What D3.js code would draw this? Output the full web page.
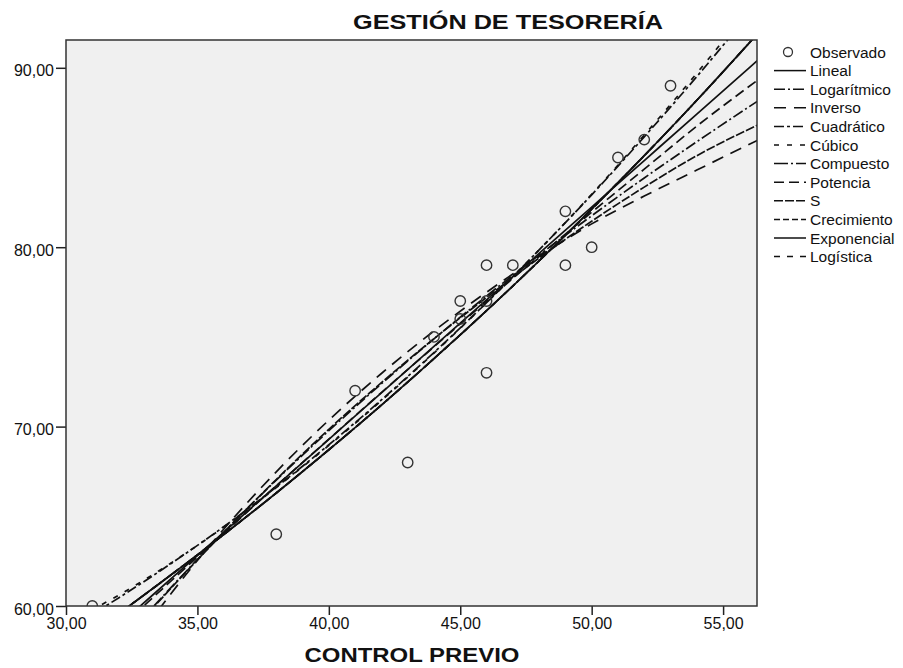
<!DOCTYPE html>
<html>
<head>
<meta charset="utf-8">
<script src="https://cdn.jsdelivr.net/npm/d3@7"></script>
<style>
    body { margin: 0; background: #fff; }
    text { font-family: "Liberation Sans", Arial, sans-serif; fill: #111; }
</style>
</head>
<body>
<div id="chart"></div>
<script>
'use strict';

// observed points (CONTROL PREVIO vs GESTIÓN DE TESORERÍA)
const obsX = [31, 38, 41, 43, 44, 45, 45, 46, 46, 46, 47, 49, 49, 50, 51, 52, 53];
const obsY = [60, 64, 72, 68, 75, 77, 76, 79, 77, 73, 79, 82, 79, 80, 85, 86, 89];

// fitted curves at these x positions
const fitX = [30.5, 32, 34, 36, 38, 40, 42, 44, 46, 48, 50, 52, 54, 56.3];
const lineal = [56.99, 58.93, 61.52, 64.11, 66.70, 69.29, 71.88, 74.47, 77.06, 79.65, 82.24, 84.83, 87.42, 90.40];
const logaritmico = [55.21, 57.79, 61.04, 64.11, 67.02, 69.77, 72.39, 74.89, 77.28, 79.56, 81.75, 83.86, 85.88, 88.13];
const inverso = [53.32, 56.68, 60.70, 64.28, 67.48, 70.36, 72.96, 75.33, 77.49, 79.48, 81.30, 82.85, 84.30, 85.95];
const cuadratico = [59.10, 60.45, 62.37, 64.42, 66.63, 68.99, 71.49, 74.13, 76.91, 79.85, 82.92, 86.15, 89.51, 93.56];
const cubico = [59.40, 60.60, 62.40, 64.40, 66.60, 68.95, 71.45, 74.10, 76.90, 79.85, 82.95, 86.25, 89.70, 93.90];
const compuesto = [58.00, 59.57, 61.74, 63.98, 66.30, 68.71, 71.20, 73.79, 76.46, 79.24, 82.12, 85.10, 88.19, 91.88];
const potencia = [56.60, 58.70, 61.40, 64.05, 66.70, 69.30, 71.90, 74.45, 77.00, 79.50, 81.95, 84.35, 86.75, 89.30];
const curvaS = [55.00, 57.70, 61.00, 64.10, 67.05, 69.85, 72.45, 74.90, 77.20, 79.40, 81.45, 83.35, 85.10, 86.80];
const crecimiento = [58.00, 59.57, 61.74, 63.98, 66.30, 68.71, 71.20, 73.79, 76.46, 79.24, 82.12, 85.10, 88.19, 91.88];
const exponencial = [58.00, 59.57, 61.74, 63.98, 66.30, 68.71, 71.20, 73.79, 76.46, 79.24, 82.12, 85.10, 88.19, 91.88];
const logistica = [58.00, 59.57, 61.74, 63.98, 66.30, 68.71, 71.20, 73.79, 76.46, 79.24, 82.12, 85.10, 88.19, 91.88];

const modelNames = ["Lineal", "Logarítmico", "Inverso", "Cuadrático", "Cúbico", "Compuesto",
    "Potencia", "S", "Crecimiento", "Exponencial", "Logística"];
const modelValues = [lineal, logaritmico, inverso, cuadratico, cubico, compuesto,
    potencia, curvaS, crecimiento, exponencial, logistica];

const xTicks = [30, 35, 40, 45, 50, 55];
const yTicks = [60, 70, 80, 90];

// dash pattern per model (legend order)
const dashes = {
    "Lineal": null,
    "Logarítmico": "11,3,2,3",
    "Inverso": "12,8",
    "Cuadrático": "10,3,3,3",
    "Cúbico": "5,8",
    "Compuesto": "14,3,2,3",
    "Potencia": "10,5",
    "S": "9,2",
    "Crecimiento": "6,3",
    "Exponencial": null,
    "Logística": "6,7"
}

const width = 903,
    height = 668;
const plot = { left: 66, right: 757, top: 40, bottom: 606 };

const svg = d3.select("#chart").append("svg")
    .attr("width", width)
    .attr("height", height);

const x = d3.scaleLinear()
    .domain([30, 56.29])
    .range([plot.left, plot.right]);
const y = d3.scaleLinear()
    .domain([60, 91.55])
    .range([plot.bottom, plot.top]);

const fmt = d => d3.format(".2f")(d).replace(".", ",");

// plot background
svg.append("rect")
    .attr("x", plot.left).attr("y", plot.top)
    .attr("width", plot.right - plot.left)
    .attr("height", plot.bottom - plot.top)
    .attr("fill", "#f0f0f0");

svg.append("defs").append("clipPath")
    .attr("id", "plot-clip")
    .append("rect")
    .attr("x", plot.left).attr("y", plot.top)
    .attr("width", plot.right - plot.left)
    .attr("height", plot.bottom - plot.top);

// axes
const xAxis = svg.append("g")
    .attr("transform", `translate(0,${plot.bottom})`)
    .call(d3.axisBottom(x).tickValues(xTicks).tickFormat(fmt).tickSize(9).tickPadding(3));
const yAxis = svg.append("g")
    .attr("transform", `translate(${plot.left},0)`)
    .call(d3.axisLeft(y).tickValues(yTicks).tickFormat(fmt).tickSize(10).tickPadding(2));

[xAxis, yAxis].forEach(a => {
    a.select(".domain").remove();
    a.selectAll("line").attr("stroke", "#222").attr("stroke-width", 1.5);
    a.selectAll("text")
        .style("font-family", '"Liberation Sans", Arial, sans-serif')
        .style("font-size", "16px")
        .attr("fill", "#222");
});
yAxis.selectAll("text").attr("dy", "0.5em");

// fitted curves
const line = d3.line()
    .x(d => x(d[0]))
    .y(d => y(d[1]))
    .curve(d3.curveMonotoneX);

const curves = svg.append("g").attr("clip-path", "url(#plot-clip)");
// exponential family first, solid ones last
const drawOrder = [5, 8, 10, 9, 1, 2, 3, 4, 6, 7, 0];
drawOrder.forEach(i => {
    curves.append("path")
        .datum(fitX.map((v, j) => [v, modelValues[i][j]]))
        .attr("d", line)
        .attr("fill", "none")
        .attr("stroke", "#111")
        .attr("stroke-width", 1.7)
        .attr("stroke-dasharray", dashes[modelNames[i]]);
});

// observed points
svg.append("g")
    .attr("clip-path", "url(#plot-clip)")
    .selectAll("circle")
    .data(obsX.map((v, i) => [v, obsY[i]]))
    .enter().append("circle")
    .attr("cx", d => x(d[0]))
    .attr("cy", d => y(d[1]))
    .attr("r", 5.2)
    .attr("fill", "none")
    .attr("stroke", "#333")
    .attr("stroke-width", 1.4);

// frame
svg.append("rect")
    .attr("x", plot.left).attr("y", plot.top)
    .attr("width", plot.right - plot.left)
    .attr("height", plot.bottom - plot.top)
    .attr("fill", "none")
    .attr("stroke", "#333")
    .attr("stroke-width", 1.5);

// titles
svg.append("text")
    .attr("x", 508).attr("y", 29)
    .attr("text-anchor", "middle")
    .attr("font-weight", "bold")
    .attr("font-size", 20)
    .attr("textLength", 310)
    .attr("lengthAdjust", "spacingAndGlyphs")
    .text("GESTIÓN DE TESORERÍA");

svg.append("text")
    .attr("x", 412).attr("y", 662)
    .attr("text-anchor", "middle")
    .attr("font-weight", "bold")
    .attr("font-size", 20)
    .attr("textLength", 215)
    .attr("lengthAdjust", "spacingAndGlyphs")
    .text("CONTROL PREVIO");

// legend
const legend = svg.append("g").attr("transform", "translate(774,52)");
const rowH = 18.6;
legend.append("circle")
    .attr("cx", 14).attr("cy", 0).attr("r", 4.5)
    .attr("fill", "none").attr("stroke", "#333").attr("stroke-width", 1.3);
legend.append("text")
    .attr("x", 36).attr("y", 5.5)
    .attr("font-size", 15.5)
    .text("Observado");

const rows = legend.selectAll("g.row")
    .data(modelNames)
    .enter().append("g")
    .attr("class", "row")
    .attr("transform", (d, i) => `translate(0,${(i + 1) * rowH})`);
rows.append("line")
    .attr("x1", 0).attr("x2", 32)
    .attr("stroke", "#111")
    .attr("stroke-width", 1.5)
    .attr("stroke-dasharray", d => dashes[d]);
rows.append("text")
    .attr("x", 36).attr("y", 5.5)
    .attr("font-size", 15.5)
    .text(d => d);
</script>
</body>
</html>
